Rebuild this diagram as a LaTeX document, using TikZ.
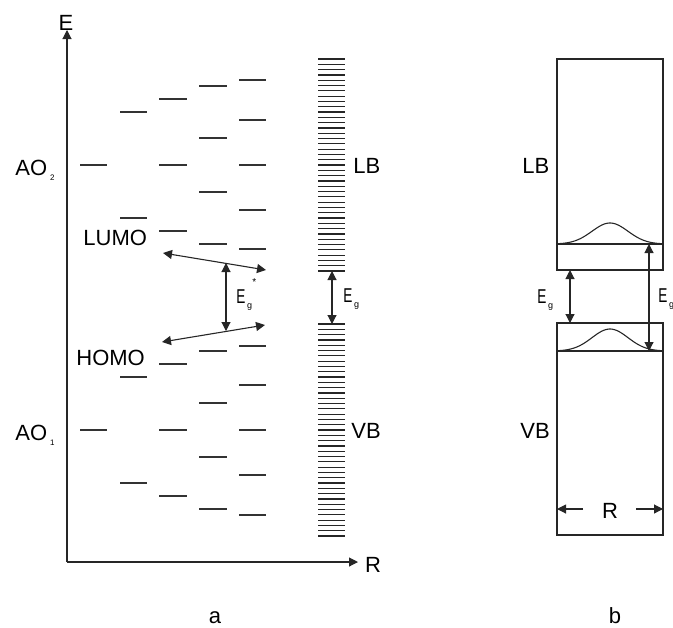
\documentclass[tikz,border=0pt]{standalone}
\usepackage{graphicx}
\usepackage{fontspec}
\setmainfont{Liberation Sans}
\usepackage{tikz}
\usetikzlibrary{arrows.meta, positioning}

\newcommand{\tinysub}[1]{\kern1.5pt\raisebox{-2.5pt}{\fontsize{4}{5}\selectfont #1}}
\newcommand{\gapE}{{\fontsize{10}{12}\selectfont\scalebox{0.68}[1]{E}}\kern0.8pt\raisebox{-2.5pt}{\fontsize{4.5}{5}\selectfont g}}

\begin{document}
\begin{tikzpicture}[x=0.5pt, y=-0.5pt, >={Triangle[length=4.5pt,width=4.5pt]},
    lbl/.style={inner sep=0pt, font=\fontsize{11}{13}\selectfont},
    lvl/.style={black!80, line width=0.55pt},
    band/.style={black!85, line width=0.6pt},
    edge/.style={black!85, line width=0.55pt}]
    \useasboundingbox (0,0) rectangle (673,627);

    % axes
    \coordinate (orig) at (67,562);
    \coordinate (etop) at (67,30);
    \coordinate (rend) at (358,562);
    \draw[edge, ->] (orig) -- (etop);
    \draw[edge, ->] (orig) -- (rend);
    \node[lbl, anchor=base] (elab) at (66,30) {E};
    \node[lbl, anchor=base] (rlab) at (373,572) {R};

    % molecular levels
    \foreach \d in {-132.5,132.5}
        \draw[lvl] (80,297.5+\d) -- (107,297.5+\d);
    \foreach \d in {-185.5,-79.5,79.5,185.5}
        \draw[lvl] (120,297.5+\d) -- (147,297.5+\d);
    \foreach \d in {-198.5,-132.5,-66.5,66.5,132.5,198.5}
        \draw[lvl] (159,297.5+\d) -- (187,297.5+\d);
    \foreach \d in {-211.5,-159.5,-105.5,-53.5,53.5,105.5,159.5,211.5}
        \draw[lvl] (199,297.5+\d) -- (227,297.5+\d);
    \foreach \d in {-217.5,-177.5,-132.5,-87.5,-48.5,48.5,87.5,132.5,177.5,217.5}
        \draw[lvl] (239,297.5+\d) -- (266,297.5+\d);

    \node[lbl, anchor=base west] (ao2) at (15,175) {AO\tinysub{2}};
    \node[lbl, anchor=base west] (ao1) at (15,440) {AO\tinysub{1}};
    \node[lbl, anchor=base west] (lumo) at (83,245) {LUMO};
    \node[lbl, anchor=base west] (homo) at (76,365) {HOMO};

    \coordinate (lumoL) at (163,253);
    \coordinate (lumoR) at (266,270);
    \coordinate (homoL) at (162,342);
    \coordinate (homoR) at (265,325);
    \coordinate (gapT) at (226,263);
    \coordinate (gapB) at (226,331);
    \draw[edge, <->] (lumoL) -- (lumoR);
    \draw[edge, <->] (homoL) -- (homoR);
    \draw[edge, <->] (gapT) -- (gapB);
    \node[lbl, anchor=base west] (egstar) at (236,303)
        {\gapE\kern0.2pt\raisebox{9pt}{\fontsize{5}{6}\selectfont *}};

    % bands of the solid
    \foreach \i in {0,...,40} {
        \draw[band] (318,59+\i*5.3) -- (345,59+\i*5.3);
        \draw[band] (318,324+\i*5.3) -- (345,324+\i*5.3);
    }
    \coordinate (lbBot) at (332,271);
    \coordinate (vbTop) at (332,324);
    \draw[edge, <->] (lbBot) -- (vbTop);
    \node[lbl, anchor=base west] (egband) at (343,302) {\gapE};
    \node[lbl, anchor=base west] (lb) at (353,173) {LB};
    \node[lbl, anchor=base west] (vb) at (351,438) {VB};

    % right panel
    \draw[edge] (557,59) rectangle (663,270);
    \draw[edge] (557,244) -- (663,244);
    \draw[edge] (557,323) rectangle (663,535);
    \draw[edge] (557,351) -- (663,351);
    \draw[edge, domain=557:663, samples=60, smooth]
        plot (\x, {244-21*exp(-((\x-610)^2)/648)});
    \draw[edge, domain=557:663, samples=60, smooth]
        plot (\x, {351-22*exp(-((\x-610)^2)/648)});

    \coordinate (cbBot) at (570,270);
    \coordinate (vbBoxTop) at (570,323);
    \coordinate (cbLine) at (649,244);
    \coordinate (vbLine) at (649,351);
    \draw[edge, <->] (cbBot) -- (vbBoxTop);
    \draw[edge, <->] (cbLine) -- (vbLine);
    \node[lbl, anchor=base west] (egleft) at (537,303) {\gapE};
    \node[lbl, anchor=base west] (egright) at (658,302) {\gapE};
    \node[lbl, anchor=base west] (lb2) at (522,173) {LB};
    \node[lbl, anchor=base west] (vb2) at (520,438) {VB};

    \node[lbl, anchor=base] (rbox) at (610,518) {R};
    \coordinate (rL) at (557,509);
    \coordinate (rLs) at (583,509);
    \coordinate (rR) at (663,509);
    \coordinate (rRs) at (636,509);
    \draw[edge, ->] (rLs) -- (rL);
    \draw[edge, ->] (rRs) -- (rR);

    \node[lbl, anchor=base] (capa) at (215,623) {a};
    \node[lbl, anchor=base] (capb) at (615,623) {b};
\end{tikzpicture}
\end{document}
